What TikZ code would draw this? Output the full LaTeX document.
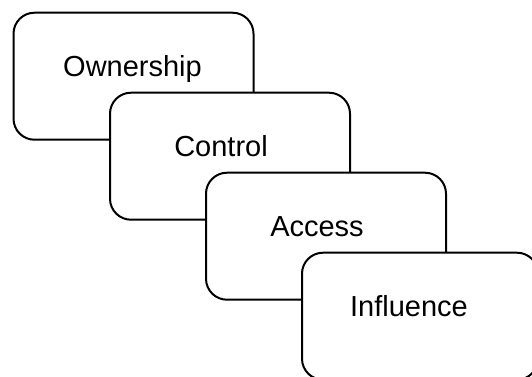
\documentclass[tikz,border=0pt]{standalone}
\usepackage{fontspec}
\setmainfont{Liberation Sans}
\begin{document}
\begin{tikzpicture}[x=1pt, y=-1pt,
    stage/.style={draw, line width=2pt, fill=white, rounded corners=21pt,
        minimum width=240pt, minimum height=127pt, inner sep=0pt},
    tag/.style={anchor=base, inner sep=0pt, font=\fontsize{29}{34}\selectfont}]
    \path[use as bounding box, clip] (0,0) rectangle (532,376);

    % Stages, each one laid over the last
    \node[stage] (own) at (133.5,76.2) {};
    \node[tag] (ownlabel) at ([xshift=-1pt]own.center) {Ownership};

    \node[stage] (ctrl) at (230,156.2) {};
    \node[tag] (ctrllabel) at ([xshift=-9pt]ctrl.center) {Control};

    \node[stage] (acc) at (326,236.2) {};
    \node[tag] (acclabel) at ([xshift=-9pt]acc.center) {Access};

    \node[stage, minimum width=236pt] (infl) at (420,316.2) {};
    \node[tag] (infllabel) at ([xshift=-11pt]infl.center) {Influence};
\end{tikzpicture}
\end{document}
